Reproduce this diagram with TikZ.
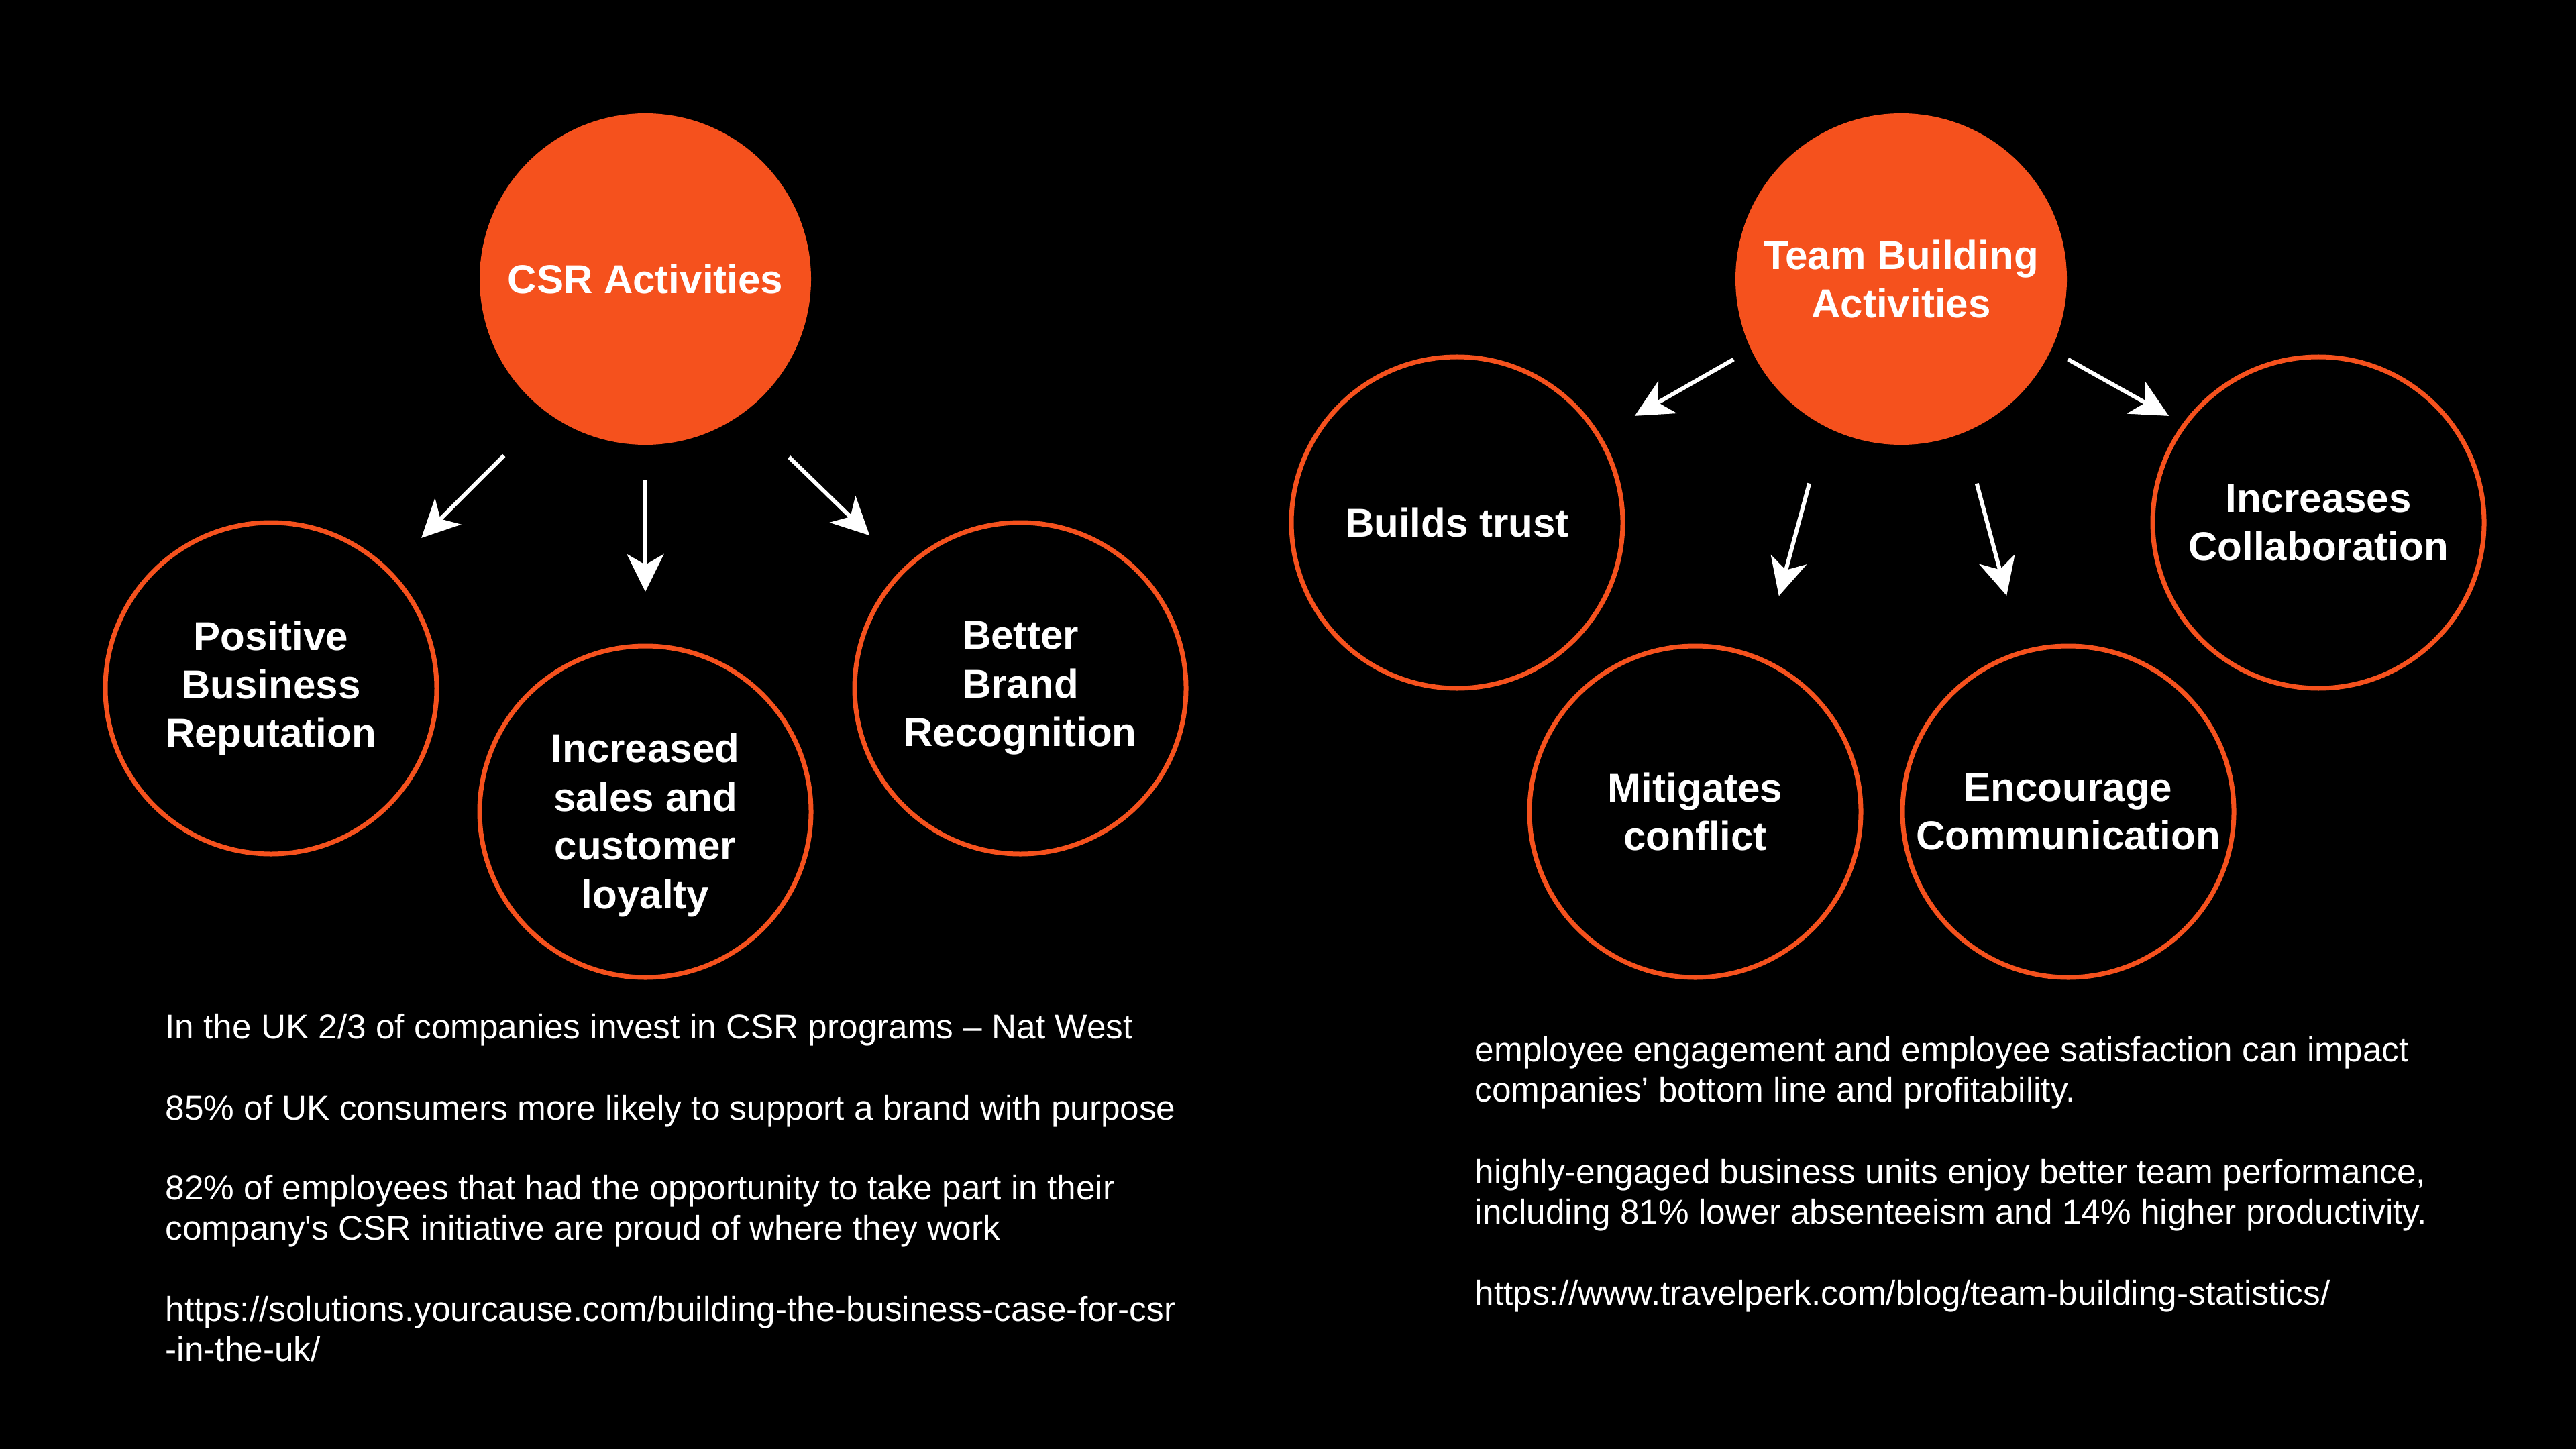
\documentclass[tikz,border=0pt]{standalone}
\usepackage{fontspec}
\setmainfont{Liberation Sans}
\usetikzlibrary{arrows.meta,calc}
\definecolor{csrorange}{RGB}{245,81,29}
\begin{document}
\begin{tikzpicture}[
  hub/.style={circle, fill=csrorange, minimum size=4.94cm, inner sep=0pt, text=white,
    font=\bfseries\fontsize{17.1}{20.6}\selectfont, align=center},
  leaf/.style={circle, draw=csrorange, line width=0.07cm, minimum size=4.94cm, inner sep=0pt, text=white,
    font=\bfseries\fontsize{17.1}{20.6}\selectfont, align=center},
  lbl/.style={inner sep=0pt, text=white, font=\bfseries\fontsize{17.1}{20.6}\selectfont, align=center},
  arr/.style={draw=white, line width=0.06cm, -{Stealth[length=0.56cm,width=0.55cm,inset=0.16cm]}},
  body/.style={text=white, anchor=base west, inner sep=0pt, font=\fontsize{14.6}{17.6}\selectfont}
]
\fill[black] (0,0) rectangle (38.4,-21.6);
\useasboundingbox (0,0) rectangle (38.4,-21.6);

% left group
\node[hub]  (csr) at (9.62,-4.16) {CSR Activities};
\node[leaf] (pos) at (4.04,-10.26) {Positive\\Business\\Reputation};
\node[leaf] (inc) at (9.62,-12.10) {};
\node[lbl]  (inclbl) at ([yshift=-0.2cm]inc.center) {Increased\\sales and\\customer\\loyalty};
\node[leaf] (bet) at (15.21,-10.26) {Better\\Brand\\Recognition};

\draw[arr] ($(csr)+(231.3:3.37)$) -- ($(pos)+(45:3.17)$);
\draw[arr] ($(csr)+(270:3.00)$) -- ($(inc)+(90:3.28)$);
\draw[arr] ($(csr)+(308.9:3.41)$) -- ($(bet)+(134.6:3.20)$);

% right group
\node[hub]  (team)  at (28.34,-4.16) {Team Building\\Activities};
\node[leaf] (trust) at (21.72,-7.79) {Builds trust};
\node[leaf] (mit)   at (25.27,-12.10) {Mitigates\\conflict};
\node[leaf] (enc)   at (30.83,-12.10) {Encourage\\Communication};
\node[leaf] (col)   at (34.56,-7.79) {Increases\\Collaboration};

\draw[arr] ($(team)+(205.6:2.77)$) -- ($(trust)+(31.0:3.09)$);
\draw[arr] ($(team)+(245.8:3.34)$) -- ($(mit)+(68.8:3.45)$);
\draw[arr] ($(team)+(290.3:3.25)$) -- ($(enc)+(105.9:3.35)$);
\draw[arr] ($(team)+(334.3:2.76)$) -- ($(col)+(144.5:2.74)$);

% left texts
\node[body] (t1) at (2.46,-15.48) {In the UK 2/3 of companies invest in CSR programs – Nat West};
\node[body] (t2) at (2.46,-16.69) {85\% of UK consumers more likely to support a brand with purpose};
\node[body] (t3) at (2.46,-17.88) {82\% of employees that had the opportunity to take part in their};
\node[body] (t4) at (2.46,-18.48) {company\textquotesingle s CSR initiative are proud of where they work};
\node[body] (t5) at (2.46,-19.69) {https://solutions.yourcause.com/building-the-business-case-for-csr};
\node[body] (t6) at (2.46,-20.29) {-in-the-uk/};

% right texts
\node[body] (r1) at (21.98,-15.82) {employee engagement and employee satisfaction can impact};
\node[body] (r2) at (21.98,-16.42) {companies’ bottom line and profitability.};
\node[body] (r3) at (21.98,-17.64) {highly-engaged business units enjoy better team performance,};
\node[body] (r4) at (21.98,-18.24) {including 81\% lower absenteeism and 14\% higher productivity.};
\node[body] (r5) at (21.98,-19.45) {https://www.travelperk.com/blog/team-building-statistics/};
\end{tikzpicture}
\end{document}
